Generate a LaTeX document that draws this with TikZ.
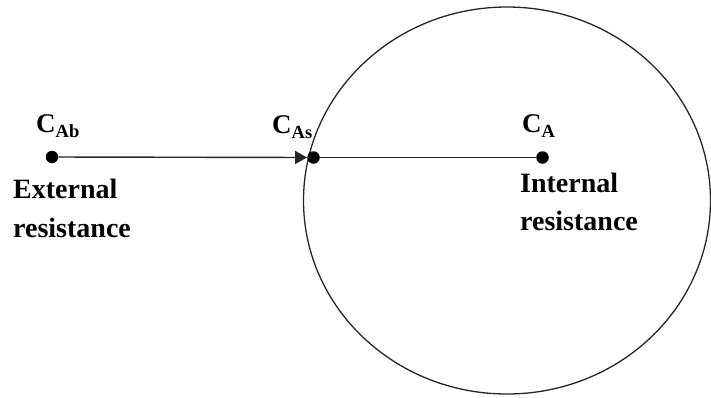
\documentclass[tikz,border=0pt]{standalone}
\usepackage{fontspec}
\setmainfont{Liberation Serif}
\usetikzlibrary{arrows.meta}
\tikzset{
  dot/.style={circle, fill=black, inner sep=0pt, minimum size=12.5pt},
  conn/.style={line width=1.4pt, draw=black!85},
  lbl/.style={anchor=base west, inner sep=0pt, font=\fontsize{28}{28}\selectfont\bfseries},
  clbl/.style={anchor=base west, inner sep=0pt, font=\fontsize{27}{27}\selectfont\bfseries},
}
\newcommand{\mysub}[1]{\raisebox{-5pt}{\fontsize{18.5}{18.5}\selectfont #1}}
\begin{document}
\begin{tikzpicture}[x=1pt,y=-1pt]
  \useasboundingbox (0,0) rectangle (711,397);
  % large circle
  \draw[line width=1.3pt, draw=black!85] (507,200.5) ellipse [x radius=203.5pt, y radius=193.5pt];
  % dots
  \node[dot] (b) at (52,157) {};
  \node[dot] (s) at (313.5,157.5) {};
  \node[dot] (a) at (542.5,157.5) {};
  % connectors
  \draw[conn, -{Triangle[length=12pt, width=13pt]}] (b) -- (s);
  \draw[conn] (s) -- (a);
  % concentration labels
  \node[clbl] (lb) at (36,132) {C\mysub{Ab}};
  \node[clbl] (ls) at (272,133) {C\mysub{As}};
  \node[clbl] (la) at (522,132) {C\mysub{A}};
  % resistance labels
  \node[lbl] (ext1) at (13,198) {External};
  \node[lbl] (ext2) at (13,237) {resistance};
  \node[lbl] (int1) at (520,192) {Internal};
  \node[lbl] (int2) at (520,230) {resistance};
\end{tikzpicture}
\end{document}
